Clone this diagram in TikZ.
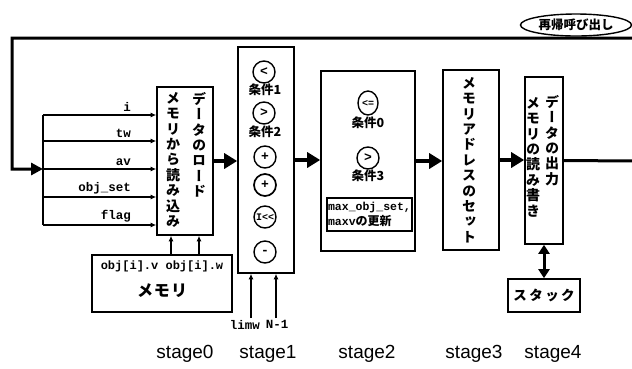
\documentclass[tikz,border=0pt]{standalone}
\usepackage{fontspec}
\setmainfont{Liberation Sans}
\newfontfamily\cjk{Noto Sans CJK JP}
\newfontfamily\cjkv{Noto Sans CJK JP}[RawFeature=+vert]
\newfontfamily\mono{Liberation Mono}
\usetikzlibrary{arrows.meta,shapes.geometric}
\begin{document}
\begin{tikzpicture}[x=1pt,y=-1pt,
  box/.style={draw, line width=1.6pt, inner sep=0pt},
  vt/.style={font=\cjkv\bfseries\fontsize{14}{15.4}\selectfont, align=center, inner sep=0pt, anchor=north},
  flow/.style={line width=4pt, -{Triangle[length=13pt,width=15pt]}},
  fback/.style={line width=3pt, line join=miter, -{Triangle[length=12pt,width=12pt]}},
  thinarr/.style={line width=1.2pt, -{Latex[length=5.5pt,width=5pt]}},
  lab/.style={font=\mono\bfseries\fontsize{12.5}{14}\selectfont, inner sep=1pt},
  cond/.style={font=\cjk\bfseries\fontsize{12.5}{13}\selectfont, inner sep=0pt},
  op/.style={draw, circle, line width=1.4pt, minimum size=22pt, inner sep=0pt, font=\mono\bfseries\fontsize{13}{13}\selectfont},
  stg/.style={font=\fontsize{19}{22}\selectfont, inner sep=0pt},
]
\useasboundingbox (0,0) rectangle (632,368);

% recursion label
\node[draw, ellipse, line width=1.4pt, minimum width=111pt, minimum height=22pt, inner sep=0pt,
  font=\cjk\bfseries\fontsize{12.5}{13}\selectfont] (rec) at (576,25) {再帰呼び出し};

% stage boxes
\node[box, minimum width=56pt, minimum height=148pt] (s0) at (185,161) {};
\node[box, minimum width=56pt, minimum height=226pt] (s1) at (266,160) {};
\node[box, minimum width=94pt, minimum height=180pt] (s2) at (368,161) {};
\node[box, minimum width=56pt, minimum height=180pt] (s3) at (471,160) {};
\node[box, minimum width=38pt, minimum height=167pt] (s4) at (544,160.5) {};
\node[box, minimum width=140pt, minimum height=57pt] (mem) at (162,283.5) {};
\node[box, minimum width=72pt, minimum height=33pt, font=\cjk\bfseries\fontsize{13.5}{14}\selectfont] (stk) at (544,295.5)
  {ス\hspace{2.5pt}タ\hspace{2.5pt}ッ\hspace{2.5pt}ク};

% vertical texts
\node[vt] (s0a) at (199,92) {デ\\ー\\タ\\の\\ロ\\ー\\ド};
\node[vt] (s0b) at (173,92) {メ\\モ\\リ\\か\\ら\\読\\み\\込\\み};
\node[vt] (s3a) at (469,77) {メ\\モ\\リ\\ア\\ド\\レ\\ス\\の\\セ\\ッ\\ト};
\node[vt] (s4a) at (552,95) {デ\\ー\\タ\\の\\出\\力};
\node[vt] (s4b) at (533,97) {メ\\モ\\リ\\の\\読\\み\\書\\き};

% memory texts
\node[lab, font=\mono\bfseries\fontsize{12}{13}\selectfont] (memt) at (162,266) {obj[i].v obj[i].w};
\node[font=\cjk\bfseries\fontsize{16}{17}\selectfont, inner sep=0pt] (meml) at (162,291) {メ\hspace{1pt}モ\hspace{1pt}リ};

% stage1 operators
\node[op] (o1) at (264,72) {<};
\node[cond] (c1) at (265,90) {条件1};
\node[op] (o2) at (264,113) {>};
\node[cond] (c2) at (265,132) {条件2};
\node[op] (o3) at (265,157) {+};
\node[op, line width=1.7pt] (o4) at (265,185) {+};
\node[op, font=\mono\bfseries\fontsize{10}{10}\selectfont] (o5) at (265,217) {I<<};
\node[op] (o6) at (265,252) {-};

% stage2 operators
\node[op, ellipse, minimum width=20pt, minimum height=24pt, font=\mono\bfseries\fontsize{10}{10}\selectfont] (o7) at (368,103) {<=};
\node[cond] (c0) at (368,123) {条件0};
\node[op] (o8) at (368,158) {>};
\node[cond] (c3) at (368,176) {条件3};
\node[box, line width=1.3pt, minimum width=85pt, minimum height=33pt, align=left,
  font=\mono\bfseries\fontsize{11.5}{14.5}\selectfont] (upd) at (369.5,214.5)
  {max\_obj\_set,\\maxv{\cjk\fontsize{12}{14.5}\selectfont の更新}};

% bus and inputs
\coordinate (b1) at (43,115);
\coordinate (b2) at (43,141);
\coordinate (b3) at (43,169);
\coordinate (b4) at (43,197);
\coordinate (b5) at (43,225);
\draw[line width=1.2pt] (b1) -- (b5);
\foreach \b in {b1,b2,b3,b4,b5} \draw[thinarr] (\b) -- (\b -| s0.west);
\node[lab, anchor=south east] (li) at (132,113) {i};
\node[lab, anchor=south east] (ltw) at (132,139) {tw};
\node[lab, anchor=south east] (lav) at (132,167) {av};
\node[lab, anchor=south east] (los) at (132,195) {obj\_set};
\node[lab, anchor=south east] (lfl) at (132,223) {flag};

% memory to stage0
\draw[thinarr] ([xshift=9pt]mem.north) -- ([xshift=9pt]mem.north |- s0.south);
\draw[thinarr] ([xshift=37pt]mem.north) -- ([xshift=37pt]mem.north |- s0.south);

% limw, N-1
\node[lab, anchor=north] (llw) at (245,319) {limw};
\node[lab, anchor=north] (lnm) at (277,319) {N-1};
\coordinate (la) at (251,318);
\coordinate (lb) at (276,318);
\draw[thinarr] (la) -- (la |- s1.south);
\draw[thinarr] (lb) -- (lb |- s1.south);

% main flow
\draw[flow] (s0.east) -- (s0.east -| s1.west);
\draw[flow] (s1.east) -- (s1.east -| s2.west);
\draw[flow] (s2.east) -- (s2.east -| s3.west);
\draw[flow] (s3.east) -- (s3.east -| s4.west);
\draw[line width=3pt, {Triangle[length=9pt,width=11pt]}-{Triangle[length=9pt,width=11pt]}] (s4.south) -- (stk.north);

% feedback loop
\coordinate (rc) at (634,161);
\coordinate (tl) at (12,38);
\draw[fback] (s4.east) -- (rc) |- (tl) |- (b3);

% stage labels
\node[stg] (g0) at (185,354) {stage0};
\node[stg] (g1) at (268,354) {stage1};
\node[stg] (g2) at (367,354) {stage2};
\node[stg] (g3) at (474,354) {stage3};
\node[stg] (g4) at (553,354) {stage4};
\end{tikzpicture}
\end{document}
